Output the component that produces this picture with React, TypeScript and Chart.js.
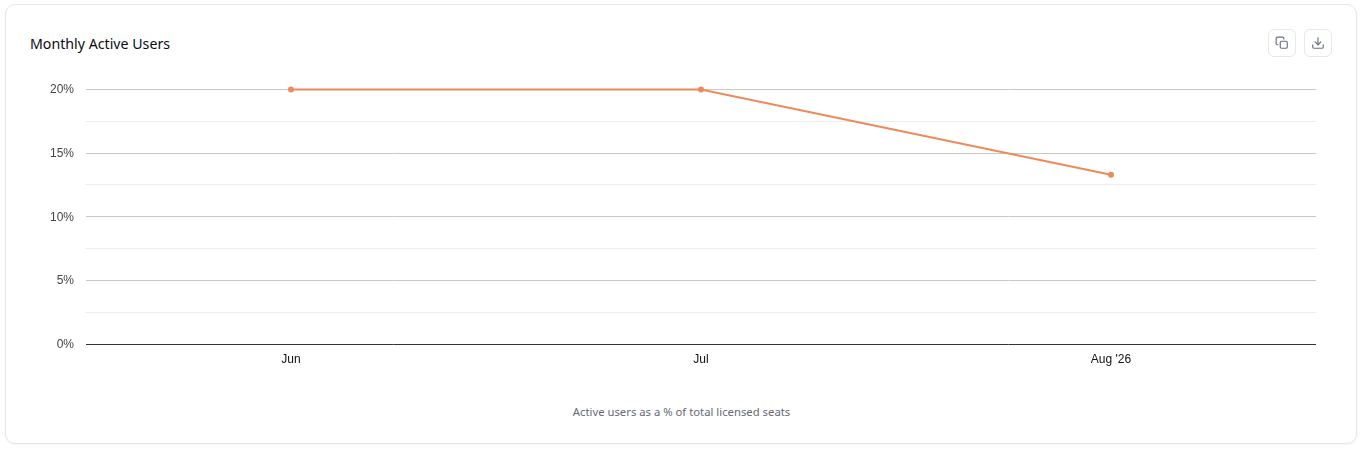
import React, { useEffect, useRef } from "react";
import { Chart, registerables } from "chart.js";

Chart.register(...registerables);

const months = ["Jun", "Jul", "Aug '26"];
const activePct = [20, 20, 13.3];
const yTicks = [0, 2.5, 5, 7.5, 10, 12.5, 15, 17.5, 20];

const TITLE = "Monthly Active Users";
const NOTE = "Active users as a % of total licensed seats";
const UI_FONT = '"Noto Sans", "Open Sans", sans-serif';
const AXIS_FONT = '"Liberation Sans", Arial, sans-serif';

const btn: React.CSSProperties = {
  position: "absolute",
  top: 29,
  width: 28,
  height: 28,
  boxSizing: "border-box",
  border: "1px solid #e5e7eb",
  borderRadius: 6,
  background: "#fff",
  display: "flex",
  alignItems: "center",
  justifyContent: "center",
};

export default function App() {
  const ref = useRef<HTMLCanvasElement | null>(null);
  useEffect(() => {
    const chart = new Chart(ref.current!, {
      type: "line",
      data: {
        labels: months,
        datasets: [
          {
            data: activePct,
            borderColor: "#ee8a5a",
            backgroundColor: "#ee8a5a",
            borderWidth: 2,
            pointRadius: 3,
            pointBorderWidth: 0,
            pointHoverRadius: 3,
            tension: 0,
            clip: false,
          },
        ],
      },
      options: {
        animation: false,
        responsive: false,
        maintainAspectRatio: false,
        layout: { padding: { top: 9.5, left: 0, right: 0, bottom: 0 } },
        plugins: { legend: { display: false }, tooltip: { enabled: false } },
        scales: {
          x: {
            offset: true,
            border: { display: false },
            grid: { display: false, drawTicks: false },
            ticks: {
              color: "#111111",
              font: { family: AXIS_FONT, size: 12 },
              padding: 8,
              maxRotation: 0,
            },
            afterFit: (s: any) => {
              s.height = 36;
              s.paddingLeft = 0;
              s.paddingRight = 0;
            },
          },
          y: {
            min: 0,
            max: 20,
            afterBuildTicks: (s: any) => {
              s.ticks = yTicks.map((value) => ({ value }));
            },
            beforeUpdate: (s: any) => {
              if (s.__nudged) return;
              s.__nudged = true;
              const compute = s._computeLabelItems.bind(s);
              s._computeLabelItems = (area: any) =>
                compute(area).map((item: any) => ({
                  ...item,
                  options: {
                    ...item.options,
                    translation: [item.options.translation[0], item.options.translation[1] + 0.5],
                  },
                }));
            },
            border: { display: false },
            grid: {
              drawTicks: false,
              color: (c: any) =>
                c.tick.value === 0 ? "#333333" : c.tick.value % 5 === 0 ? "#c8c8c8" : "#eeeeee",
            },
            ticks: {
              color: "#444444",
              font: { family: AXIS_FONT, size: 12 },
              padding: 12,
              callback: (v: any) => (Number(v) % 5 === 0 ? `${v}%` : ""),
            },
            afterFit: (s: any) => {
              s.width = 56;
              s.paddingTop = 0;
              s.paddingBottom = 0;
            },
          },
        },
      },
    } as any);
    return () => chart.destroy();
  }, []);

  return (
    <div style={{ position: "absolute", left: 0, top: 0, width: 1363, height: 450, background: "#fff", overflow: "hidden" }}>
      <div
        style={{
          position: "absolute",
          left: 5,
          top: 4,
          width: 1352,
          height: 440,
          boxSizing: "border-box",
          border: "1px solid #e5e7eb",
          borderRadius: 10,
          boxShadow: "0 1px 2px rgba(0,0,0,0.05)",
          background: "#fff",
        }}
      />
      <div style={{ position: "absolute", left: 30, top: 33, font: `14.2px/22px ${UI_FONT}`, color: "#0b0b12", whiteSpace: "nowrap" }}>
        {TITLE}
      </div>
      <div style={{ ...btn, left: 1268 }}>
        <svg width="14" height="14" viewBox="0 0 24 24" fill="none" stroke="#6b7085" strokeWidth="2" strokeLinecap="round" strokeLinejoin="round">
          <rect x="9" y="9" width="12" height="12" rx="2" />
          <path d="M5 15H4a2 2 0 0 1-2-2V4a2 2 0 0 1 2-2h9a2 2 0 0 1 2 2v1" />
        </svg>
      </div>
      <div style={{ ...btn, left: 1304 }}>
        <svg width="14" height="14" viewBox="0 0 24 24" fill="none" stroke="#6b7085" strokeWidth="2" strokeLinecap="round" strokeLinejoin="round">
          <path d="M21 15v4a2 2 0 0 1-2 2H5a2 2 0 0 1-2-2v-4" />
          <path d="M7 10l5 5 5-5" />
          <path d="M12 15V3" />
        </svg>
      </div>
      <canvas ref={ref} width={1289} height={300} style={{ position: "absolute", left: 30, top: 80, width: 1289, height: 300 }} />
      <div style={{ position: "absolute", left: 0, width: 1363, top: 403, textAlign: "center", font: `11.3px/18px ${UI_FONT}`, color: "#666a73", whiteSpace: "nowrap" }}>
        {NOTE}
      </div>
    </div>
  );
}
